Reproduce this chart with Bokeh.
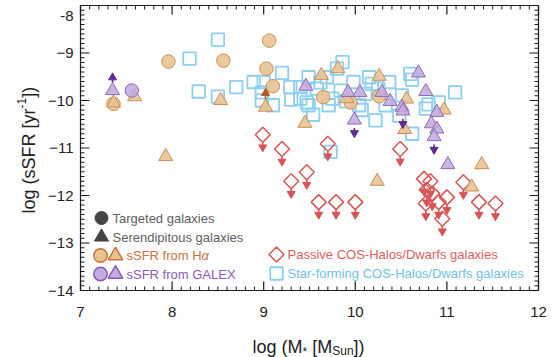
import math
from bokeh.plotting import figure
from bokeh.models import LinearAxis, SingleIntervalTicker, Label, Range1d
from bokeh.embed import file_html
from bokeh.resources import INLINE

# ---------------- data ----------------
sf_x = [8.50, 8.19, 8.29, 8.50, 8.70, 8.89, 9.00, 8.98, 8.98, 9.10, 9.20, 9.29, 9.40, 9.40,
        9.49, 9.49, 9.54, 9.47, 9.58, 9.69, 9.80, 9.86, 9.75, 9.71, 9.84, 9.98, 10.04, 10.11,
        10.15, 10.18, 10.22, 10.33, 10.37, 10.48, 10.51, 10.60, 10.62, 10.62, 10.77, 10.80,
        10.91, 11.09, 9.73, 9.90, 10.07, 9.62, 9.30, 10.25]
sf_y = [-8.72, -9.12, -9.81, -9.92, -9.72, -9.61, -9.61, -9.83, -10.00, -10.10, -9.42, -9.72, -9.72, -9.96,
        -9.51, -10.10, -10.30, -10.04, -9.75, -9.51, -9.33, -9.19, -9.96, -10.10, -9.79, -9.61, -10.10, -9.86,
        -9.51, -9.65, -10.42, -10.10, -9.61, -10.32, -9.89, -9.44, -9.56, -10.70, -10.17, -10.08,
        -10.04, -9.83, -11.08, -10.02, -10.20, -9.62, -9.98, -9.75]

pas_x = [8.99, 9.20, 9.30, 9.47, 9.60, 9.70, 9.79, 10.00, 10.49, 10.75, 10.82, 10.78, 10.84,
         10.77, 10.91, 11.00, 10.95, 11.18, 11.35, 11.53]
pas_y = [-10.72, -11.02, -11.70, -11.51, -12.14, -10.91, -12.14, -12.14, -11.02, -11.65, -11.70,
         -11.88, -11.96, -12.17, -12.14, -12.04, -12.49, -11.72, -12.14, -12.17]

ha_circ_x = [7.36, 7.96, 8.56, 9.06, 9.03, 9.10, 9.65, 9.95, 10.26]
ha_circ_y = [-10.07, -9.18, -9.16, -8.74, -9.33, -9.70, -9.93, -10.04, -9.91]
ha_tri_x = [7.36, 7.59, 7.93, 8.53, 9.02, 9.45, 9.63, 9.81, 9.91, 10.26, 10.56, 10.54, 10.97,
            11.38, 10.24, 11.27]
ha_tri_y = [-10.05, -9.92, -11.18, -10.00, -10.14, -10.48, -9.47, -9.33, -9.96, -9.49, -9.97,
            -10.61, -10.20, -11.35, -11.70, -11.82]
ha_tri_lim = [0, 0, 0, 0, 1, 0, 0, 0, 0, 0, 0, 0, 0, 0, 0, 0]

gx_circ_x = [7.56]
gx_circ_y = [-9.79]
gx_tri_x = [7.35, 9.46, 9.92, 10.05, 9.99, 10.29, 10.38, 10.69, 10.77, 10.51, 10.52, 10.89,
            10.83, 10.89, 10.86, 11.01]
gx_tri_y = [-9.79, -9.70, -9.83, -9.83, -10.41, -9.83, -10.02, -9.42, -9.81, -10.14, -10.22,
            -10.25, -10.49, -10.60, -10.76, -11.35]
gx_tri_lim = [1, 0, 0, 0, -1, 0, 0, 0, 0, 0, -1, 0, 0, 0, -1, 0]

x_ticks = [7, 8, 9, 10, 11, 12]
y_ticks = [-14, -13, -12, -11, -10, -9, -8]

# ---------------- layout ----------------
FONT = "Liberation Sans"
W, H = 558, 357
X0, X1, Y0, Y1 = 7, 12, -14, -8
L, R, T, B = 80, 538, 5, 290
PX_X = (R - L) / (X1 - X0)
PX_Y = (B - T) / (Y1 - Y0)
MAJ, MIN = 9, 4   # tick lengths in px


def dx(px):
    return X0 + (px - L) / PX_X


def dy(py):
    return Y1 - (py - T) / PX_Y


ORANGE_FILL, ORANGE_EDGE, ORANGE_ARROW, ORANGE_TXT = "#e8c391", "#cf8d58", "#b4571f", "#c8733c"
PURPLE_FILL, PURPLE_EDGE, PURPLE_ARROW, PURPLE_TXT = "#c4acdd", "#8f6bb6", "#5c2a91", "#8a5bb8"
RED = "#d75555"
CYAN = "#8ccfee"
CYAN_TXT = "#6fc1e6"
RED_TXT = "#d9605e"
AX = "#1a1a1a"

# the frame spans the whole canvas; the axes are pinned at the data box edges
p = figure(width=W, height=H, x_range=Range1d(dx(0), dx(W)), y_range=Range1d(dy(H), dy(0)),
           output_backend="svg", toolbar_location=None, min_border=0,
           x_axis_location=None, y_axis_location=None)
p.xgrid.visible = False
p.ygrid.visible = False
p.outline_line_color = None


def make_axis(loc, bounds, ticks, show, standoff=0):
    ax = LinearAxis(fixed_location=loc, bounds=bounds)
    ax.ticker = SingleIntervalTicker(interval=1, num_minor_ticks=10)
    ax.axis_line_color = AX
    ax.axis_line_width = 1.2
    ax.major_tick_in = 0
    ax.major_tick_out = 0
    ax.minor_tick_in = 0
    ax.minor_tick_out = 0
    if show:
        ax.major_label_text_font = FONT
        ax.major_label_text_font_size = "15px"
        ax.major_label_text_color = "#222222"
        ax.major_label_standoff = standoff
    else:
        ax.major_label_overrides = {t: "" for t in ticks}
        ax.major_label_standoff = 0
    return ax


left_ax = make_axis(X0, (Y0, Y1), y_ticks, True, 7)
left_ax.major_label_overrides = {-8: ""}
p.add_layout(make_axis(Y0, (X0, X1), x_ticks, True, 16), "below")
p.add_layout(left_ax, "left")
p.add_layout(make_axis(Y1, (X0, X1), x_ticks, False), "above")
p.add_layout(make_axis(X1, (Y0, Y1), y_ticks, False), "right")


# inward tick marks on all four sides, at the axes' major ticks and tenth-step minor ticks
def minors(ticks):
    return [a + (b - a) * k / 10 for a, b in zip(ticks, ticks[1:]) for k in range(1, 10)]


def tick_marks(vals, length, width):
    hx = dx(L + length) - X0
    hy = Y1 - dy(T + length)
    x0s, y0s, x1s, y1s = [], [], [], []
    for t in vals[0]:
        x0s += [t, t]
        x1s += [t, t]
        y0s += [Y0, Y1]
        y1s += [Y0 + hy, Y1 - hy]
    for t in vals[1]:
        y0s += [t, t]
        y1s += [t, t]
        x0s += [X0, X1]
        x1s += [X0 + hx, X1 - hx]
    p.segment(x0s, y0s, x1s, y1s, line_color=AX, line_width=width)


tick_marks((x_ticks, y_ticks), MAJ, 1.2)
tick_marks((minors(x_ticks), minors(y_ticks)), MIN, 1.0)

# ---------------- marks ----------------
p.scatter(sf_x, sf_y, marker="square", size=12.5, fill_color=None, line_color=CYAN, line_width=1.8)
p.scatter(pas_x, pas_y, marker="square", angle=math.pi / 4, size=10.6, fill_color=None,
          line_color=RED, line_width=1.5)


def arrows(xs, ys, dirs, color, start_px, head_px):
    sx, sy0, sy1, hx, hy, hu = [], [], [], [], [], []
    for x, y, d in zip(xs, ys, dirs):
        if d == 0:
            continue
        sx.append(x)
        sy0.append(y + d * start_px / PX_Y)
        sy1.append(y + d * (head_px + 1) / PX_Y)
        hx.append(x)
        hy.append(y + d * head_px / PX_Y)
        hu.append(d)
    if not sx:
        return
    p.segment(sx, sy0, sx, sy1, line_color=color, line_width=1.6)
    up_x = [a for a, d in zip(hx, hu) if d > 0]
    up_y = [b for b, d in zip(hy, hu) if d > 0]
    dn_x = [a for a, d in zip(hx, hu) if d < 0]
    dn_y = [b for b, d in zip(hy, hu) if d < 0]
    if up_x:
        p.scatter(up_x, up_y, marker="triangle", size=8, fill_color=color, line_color=color)
    if dn_x:
        p.scatter(dn_x, dn_y, marker="inverted_triangle", size=8, fill_color=color, line_color=color)


arrows(pas_x, pas_y, [-1] * len(pas_x), RED, 7.5, 12.5)

p.scatter(ha_circ_x, ha_circ_y, marker="circle", size=13.5, fill_color=ORANGE_FILL, fill_alpha=0.9,
          line_color=ORANGE_EDGE, line_width=1)
p.scatter(ha_tri_x, ha_tri_y, marker="triangle", size=14, fill_color=ORANGE_FILL, fill_alpha=0.9,
          line_color=ORANGE_EDGE, line_width=1)
arrows(ha_tri_x, ha_tri_y, ha_tri_lim, ORANGE_ARROW, 8, 14)

p.scatter(gx_circ_x, gx_circ_y, marker="circle", size=13.5, fill_color=PURPLE_FILL, fill_alpha=0.9,
          line_color=PURPLE_EDGE, line_width=1)
p.scatter(gx_tri_x, gx_tri_y, marker="triangle", size=14, fill_color=PURPLE_FILL, fill_alpha=0.9,
          line_color=PURPLE_EDGE, line_width=1)
arrows(gx_tri_x, gx_tri_y, gx_tri_lim, PURPLE_ARROW, 8, 13)


# ---------------- texts ----------------
def lab(px, py, text, size, color="#222222", align="left", baseline="middle", angle=0.0, style="normal"):
    p.add_layout(Label(x=dx(px), y=dy(py), text=text, text_font=FONT, text_font_size=f"{size}px",
                       text_color=color, text_align=align, text_baseline=baseline, angle=angle,
                       text_font_style=style))


lab(73, 15, "-8", 15, align="right")

# x axis title: log (M* [M_Sun])
lab(252, 346, "log (M", 18, baseline="alphabetic")
lab(302, 351, "*", 12, baseline="alphabetic")
lab(311.7, 346, "[M", 18, baseline="alphabetic")
lab(331.7, 350, "Sun", 12, baseline="alphabetic")
lab(353, 346, "])", 18, baseline="alphabetic")

# y axis title: log (sSFR [yr^-1])
lab(28, 213, "log (sSFR [yr", 18, baseline="alphabetic", angle=math.pi / 2)
lab(21, 108, "-1", 12, baseline="alphabetic", angle=math.pi / 2)
lab(28, 97.3, "])", 18, baseline="alphabetic", angle=math.pi / 2)

# legend
rows = [217.5, 236.5, 255, 273.5]
p.scatter([dx(101)], [dy(rows[0])], marker="circle", size=13, fill_color="#444444", line_color="#444444")
lab(112, rows[0], "Targeted galaxies", 13, color="#5e5e5e")
p.scatter([dx(101)], [dy(rows[1])], marker="triangle", size=14, fill_color="#444444", line_color="#444444")
lab(112, rows[1], "Serendipitous galaxies", 13, color="#5e5e5e")
p.scatter([dx(100)], [dy(rows[2])], marker="circle", size=13.5, fill_color=ORANGE_FILL,
          line_color="#c97034", line_width=1.4)
p.scatter([dx(115)], [dy(rows[2])], marker="triangle", size=14.5, fill_color=ORANGE_FILL,
          line_color="#c97034", line_width=1.4)
lab(126, rows[2], "sSFR from H", 13, color=ORANGE_TXT)
lab(201.1, rows[2], "\u03b1", 13, color=ORANGE_TXT, style="italic")
p.scatter([dx(100)], [dy(rows[3])], marker="circle", size=13.5, fill_color=PURPLE_FILL,
          line_color="#8557b8", line_width=1.4)
p.scatter([dx(115)], [dy(rows[3])], marker="triangle", size=14.5, fill_color=PURPLE_FILL,
          line_color="#8557b8", line_width=1.4)
lab(126, rows[3], "sSFR from GALEX", 13, color=PURPLE_TXT)

p.scatter([dx(276)], [dy(254)], marker="square", angle=math.pi / 4, size=10.6, fill_color=None,
          line_color=RED, line_width=1.5)
lab(287, 254, "Passive COS-Halos/Dwarfs galaxies", 13, color=RED_TXT)
p.scatter([dx(276)], [dy(273)], marker="square", size=12.5, fill_color=None, line_color=CYAN, line_width=1.8)
lab(287, 273, "Star-forming COS-Halos/Dwarfs galaxies", 13, color=CYAN_TXT)

open("out.html", "w").write(file_html(p, INLINE))
